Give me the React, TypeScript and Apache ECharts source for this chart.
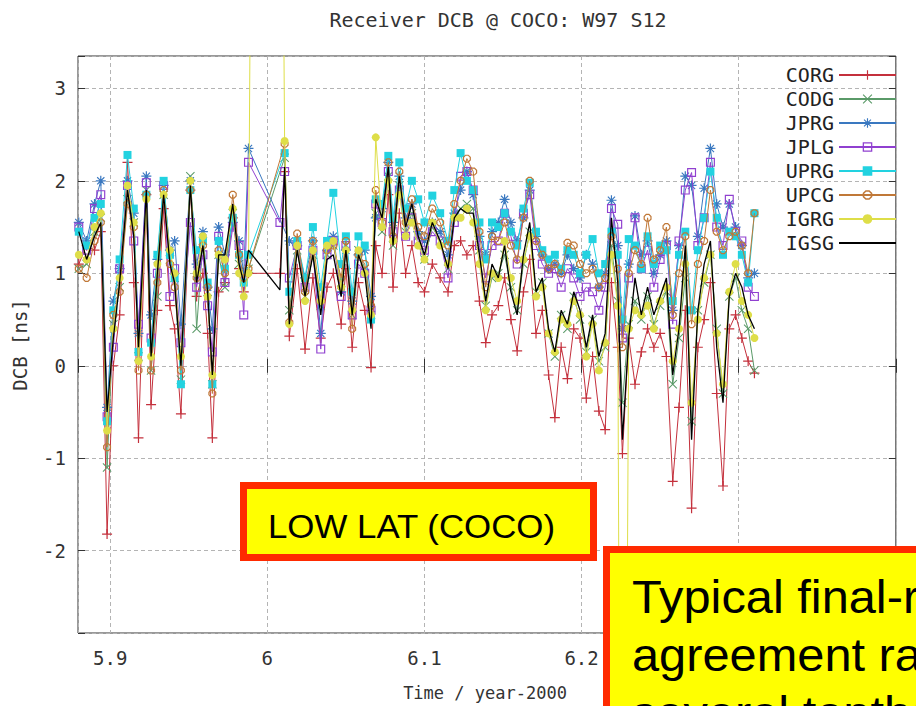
import React, { useEffect, useRef } from 'react';
import * as echarts from 'echarts';

// epochs (year - 2000)
const epochs = [
  5.880, 5.885, 5.890, 5.894, 5.898, 5.902, 5.906, 5.911, 5.915, 5.918,
  5.923, 5.926, 5.930, 5.934, 5.938, 5.941, 5.945, 5.951, 5.955, 5.959,
  5.962, 5.965, 5.969, 5.973, 5.978, 5.982, 5.985, 5.988,
  5.999,
  6.008, 6.011, 6.014, 6.019, 6.024, 6.029, 6.034, 6.038, 6.042, 6.047,
  6.050, 6.054, 6.058, 6.062, 6.066, 6.069, 6.073, 6.077, 6.080, 6.084,
  6.088, 6.092, 6.096, 6.100, 6.105, 6.110, 6.115, 6.119, 6.123, 6.127,
  6.131, 6.135, 6.139, 6.143, 6.147, 6.151, 6.155, 6.159, 6.163, 6.167,
  6.171, 6.175, 6.179, 6.183, 6.187, 6.191, 6.195, 6.199, 6.203, 6.207,
  6.211, 6.215, 6.219, 6.223, 6.226, 6.230, 6.234, 6.238, 6.242, 6.246,
  6.250, 6.254, 6.258, 6.262, 6.266, 6.270, 6.274, 6.278, 6.282, 6.286,
  6.290, 6.294, 6.298, 6.302, 6.306, 6.310,
];

const CORG = [
  1.10, 1.30, 1.25, 1.45, -1.82, 0.00, 0.55, 2.20, 0.90, -0.78,
  1.85, -0.42, 0.60, 1.70, 0.65, 0.40, -0.52, 1.90, 0.75, 1.00,
  0.35, -0.78, 0.80, 0.90, 1.60, 1.05, 0.80, 1.00,
  null,
  1.00, 2.10, 0.32, 1.05, 0.18, 0.95, 0.30, 0.85, 1.00, 0.45,
  1.05, 0.20, 0.90, 0.60, -0.02, 1.30, 1.00, 1.85, 0.85, 1.65,
  1.00, 1.30, 0.90, 0.80, 1.10, 0.95, 0.80, 1.30, 1.35, 1.20,
  1.30, 0.70, 0.25, 0.55, 0.65, 0.95, 0.50, 0.16, 0.80, 1.15,
  0.35, 0.60, -0.10, -0.56, 0.20, -0.14, 0.40, 0.30, -0.35, 0.10,
  -0.49, -0.69, 0.90, 0.20, -0.95, 0.30, -0.20, 0.15, 0.40, 0.20,
  0.35, 0.10, -1.25, -0.45, 0.60, -1.54, 0.20, 0.50, 0.90, -0.30,
  -1.30, 0.40, 0.55, 0.30, 0.05, -0.08,
];

const CODG = [
  1.05, 1.10, 1.45, 1.60, -1.10, 0.45, 0.85, 1.80, 1.55, 0.10,
  1.90, -0.05, 0.75, 1.85, 1.15, 0.95, -0.15, 2.05, 0.40, 1.35,
  0.80, -0.20, 1.20, 0.85, 1.65, 1.10, 1.00, 1.05,
  null,
  null, 2.25, 0.60, 1.25, 0.75, 1.20, 0.65, 1.20, 1.30, 0.90,
  1.30, 0.55, 1.25, 1.05, 0.55, 1.65, 1.45, 2.05, 1.30, 1.95,
  1.45, 1.65, 1.40, 1.15, 1.50, 1.35, 1.05, 1.60, 1.70, 1.75,
  1.70, 1.25, 0.65, 0.95, 1.00, 1.20, 0.85, 0.60, 1.10, 1.45,
  0.80, 0.90, 0.35, 0.10, 0.55, 0.40, 0.75, 0.50, 0.15, 0.50,
  0.05, 0.20, 1.30, 0.70, -0.40, 0.45, 0.70, 0.50, 0.75, 0.45,
  0.65, 0.80, -0.20, 0.30, 0.95, -0.60, 0.60, 0.90, 1.20, 0.40,
  -0.30, 0.75, 0.95, 0.60, 0.40, -0.05,
];

const JPRG = [
  1.55, 1.35, 1.75, 2.00, -0.45, 0.70, 1.05, 2.00, 1.65, 0.35,
  2.05, 0.55, 1.15, 1.95, 1.25, 1.35, 0.45, 2.00, 1.10, 1.45,
  0.85, 0.40, 1.50, 1.20, 1.55, 1.35, 1.00, 2.35,
  null,
  null, null, 1.35, 1.30, 0.95, 1.35, 0.35, 1.25, 1.40, 0.80,
  1.25, 0.70, 1.20, 1.25, 0.75, 1.60, 1.70, 2.20, 1.55, 2.05,
  1.60, 1.75, 1.45, 1.35, 1.55, 1.45, 1.20, 1.65, 1.90, 2.10,
  1.85, 1.40, 1.20, 1.45, 1.55, 1.80, 1.55, 1.35, 1.60, 1.90,
  1.40, 1.20, 1.05, 1.10, 1.00, 1.20, 1.05, 0.95, 1.20, 1.10,
  0.85, 1.00, 1.79, 1.30, 0.40, 1.10, 1.62, 1.20, 1.35, 1.00,
  1.20, 1.35, 0.60, 1.30, 2.05, 1.95, 1.40, 1.92, 2.35, 1.75,
  1.50, 1.75, 1.50, 1.30, 0.95, 1.00,
];

const JPLG = [
  1.50, 1.25, 1.70, 1.85, -0.55, 0.20, 1.05, 1.95, 1.35, 0.45,
  1.98, 0.30, 1.00, 1.95, 0.75, 1.05, 0.25, 1.55, 0.85, 1.20,
  0.65, 0.15, 1.40, 0.90, 1.50, 1.30, 0.55, 2.20,
  null,
  1.55, 2.10, 0.95, 1.30, 0.85, 1.25, 0.18, 1.20, 1.35, 0.75,
  1.30, 0.55, 1.10, 1.00, 0.60, 1.75, 1.55, 2.10, 1.45, 1.90,
  1.40, 1.60, 1.35, 1.25, 1.45, 1.35, 0.95, 1.55, 2.05, 2.10,
  1.90, 1.30, 0.95, 1.30, 1.35, 1.65, 1.40, 1.10, 1.65, 1.85,
  1.30, 1.10, 1.00, 1.05, 0.85, 1.05, 0.95, 0.75, 0.85, 0.80,
  0.60, 0.85, 1.70, 1.53, 0.30, 0.95, 1.60, 1.05, 1.25, 0.85,
  1.15, 1.30, 0.45, 1.35, 1.90, 2.09, 1.30, 1.60, 2.20, 1.50,
  1.30, 1.80, 1.45, 1.35, 0.85, 0.75,
];

const UPRG = [
  1.45, 1.30, 1.60, 1.75, -0.60, 0.60, 1.15, 2.28, 1.70, 0.15,
  1.85, 0.25, 1.20, 2.00, 1.20, 0.95, -0.20, 1.90, 1.25, 1.35,
  0.90, -0.20, 1.35, 1.05, 1.60, 1.20, 0.90, 1.20,
  null,
  null, 2.30, 0.80, 1.35, 0.95, 1.50, 0.85, 1.35, 1.87, 1.10,
  1.40, 0.80, 1.40, 1.30, 0.50, 1.80, 1.75, 2.27, 1.60, 2.20,
  1.70, 2.00, 1.80, 1.55, 1.84, 1.65, 1.35, 1.90, 2.30, 2.00,
  1.90, 1.55, 1.15, 1.55, 1.50, 1.65, 1.45, 1.30, 1.70, 1.98,
  1.45, 1.25, 1.15, 1.20, 1.05, 1.25, 1.20, 1.00, 1.20, 1.37,
  1.00, 1.10, 1.45, 1.20, 0.50, 1.37, 1.30, 1.05, 1.40, 1.10,
  1.30, 1.25, 0.70, 1.20, 1.45, 0.60, 1.25, 1.60, 2.10, 1.60,
  1.20, 1.45, 1.40, 1.20, 0.90, 1.65,
];

const UPCG = [
  1.05, 0.95, 1.35, 1.55, -0.88, 0.55, 0.80, 1.75, 1.50, -0.05,
  1.85, -0.05, 0.90, 1.90, 1.10, 0.85, -0.05, 1.90, 0.95, 1.30,
  0.85, -0.30, 1.25, 1.00, 1.85, 1.20, 0.95, 1.05,
  null,
  null, 2.40, 0.47, 1.43, 0.80, 1.35, 0.70, 1.25, 1.30, 0.95,
  1.35, 0.40, 1.20, 1.10, 0.65, 1.90, 1.55, 2.20, 1.40, 2.10,
  1.55, 1.80, 1.50, 1.40, 1.70, 1.55, 1.30, 1.75, 2.00, 2.24,
  2.10, 1.45, 0.85, 1.40, 1.35, 1.55, 1.30, 1.15, 1.60, 2.00,
  1.35, 1.20, 1.05, 1.10, 1.00, 1.33, 1.30, 1.10, 1.00, 1.05,
  0.85, 0.95, 1.40, 1.05, 0.20, 1.00, 1.25, 1.10, 1.60, 1.15,
  1.25, 1.50, 0.55, 1.00, 1.40, 0.45, 1.10, 1.35, 1.90, 1.45,
  1.25, 1.40, 1.45, 1.30, 1.00, 1.65,
];

const IGRG = [
  1.20, 1.15, 1.50, 1.65, -0.70, 0.40, 0.95, 1.95, 1.55, 0.05,
  1.80, 0.10, 1.10, 1.85, 1.25, 1.00, 0.10, 2.00, 1.00, 1.40,
  0.75, -0.10, 1.20, 1.15, 1.70, 1.00, 0.75, 1.00,
  30.0,
  null, 2.43, 0.45, 1.30, 0.70, 1.25, 0.70, 1.30, 1.35, 0.85,
  1.25, 0.60, 1.25, 1.00, 0.55, 2.47, 1.50, 2.00, 1.35, 1.85,
  1.40, 1.55, 1.30, 1.15, 1.55, 1.30, 1.10, 1.60, 1.60, 1.70,
  1.55, 1.10, 0.60, 1.00, 0.95, 1.35, 0.95, 0.70, 1.15, 1.40,
  0.75, 0.85, 0.35, 0.15, 0.50, 0.45, 0.70, 0.55, 0.10, 0.45,
  -0.05, 0.25, 1.20, 0.65, -12.0, 0.40, 0.60, 0.55, 0.65, 0.40,
  0.70, 0.85, 0.05, 0.40, 1.10, -0.40, 0.50, 0.95, 1.20, 0.35,
  -0.20, 0.80, 1.10, 0.70, 0.55, 0.30,
];

const IGSG = [
  1.45, 1.15, 1.40, 1.55, -0.50, 0.30, 0.90, 1.90, 1.40, 0.20,
  1.90, 0.10, 1.00, 1.85, 1.10, 0.90, 0.00, 1.95, 0.90, 1.30,
  0.80, -0.10, 1.20, 1.20, 1.75, 1.10, 0.90, 1.25,
  null,
  0.82, 2.15, 0.45, 1.25, 0.75, 1.20, 0.55, 1.15, 1.20, 0.75,
  1.25, 0.55, 1.20, 1.00, 0.40, 1.80, 1.60, 2.15, 1.30, 2.05,
  1.50, 1.75, 1.40, 1.20, 1.55, 1.35, 1.05, 1.60, 1.70, 1.65,
  1.65, 1.20, 0.70, 1.10, 0.95, 1.30, 0.80, 0.55, 1.20, 1.55,
  0.80, 0.95, 0.40, 0.15, 0.60, 0.45, 0.80, 0.60, 0.20, 0.55,
  0.10, 0.35, 1.60, 0.90, -0.80, 0.30, 0.95, 0.55, 0.85, 0.55,
  0.75, 0.95, -0.10, 0.40, 1.30, -0.80, 0.60, 1.10, 1.35, 0.20,
  -0.40, 0.75, 1.00, 0.85, 0.55, 0.40,
];

const seriesNames = ['CORG', 'CODG', 'JPRG', 'JPLG', 'UPRG', 'UPCG', 'IGRG', 'IGSG'];
const seriesValues = [CORG, CODG, JPRG, JPLG, UPRG, UPCG, IGRG, IGSG];
const seriesColors = ['#c4303c', '#5a9a68', '#3a78c0', '#9040d0', '#22d2e0', '#c07838', '#dede48', '#000000'];

const PLUS = 'path://M4.4,0H5.6V4.4H10V5.6H5.6V10H4.4V5.6H0V4.4H4.4Z';
const CROSS = 'path://M0,0.8L0.8,0L5,4.2L9.2,0L10,0.8L5.8,5L10,9.2L9.2,10L5,5.8L0.8,10L0,9.2L4.2,5Z';
const STAR = 'path://M4.4,0H5.6V4.4H10V5.6H5.6V10H4.4V5.6H0V4.4H4.4Z M1,1.8L1.8,1L5,4.2L8.2,1L9,1.8L5.8,5L9,8.2L8.2,9L5,5.8L1.8,9L1,8.2L4.2,5Z';
const SQUARE_OPEN = 'path://M0,0H10V10H0Z M1.3,1.3V8.7H8.7V1.3Z';
const OCT_OPEN = 'path://M3,0L7,0L10,3L10,7L7,10L3,10L0,7L0,3Z M3.6,1.5L1.5,3.6L1.5,6.4L3.6,8.5L6.4,8.5L8.5,6.4L8.5,3.6L6.4,1.5Z';
const seriesSymbols = [PLUS, CROSS, STAR, SQUARE_OPEN, 'rect', OCT_OPEN, 'circle', 'none'];
const seriesSymbolSizes = [10, 9, 10, 9, 8, 8, 8, 0];

const MONO = '"DejaVu Sans Mono", "Liberation Mono", monospace';
const SANS = '"Liberation Sans", Arial, sans-serif';

export default function App() {
  const ref = useRef<HTMLDivElement>(null);

  useEffect(() => {
    if (!ref.current) return;
    const chart = echarts.init(ref.current, undefined, { renderer: 'svg' });

    const series = seriesNames.map((name, k) => {
      const vals = seriesValues[k];
      const data: number[][] = [];
      epochs.forEach((x, i) => {
        const v = vals[i];
        if (v !== null && v !== undefined) data.push([x, v]);
      });
      return {
        name,
        type: 'line',
        data,
        symbol: seriesSymbols[k],
        symbolSize: seriesSymbolSizes[k],
        showSymbol: seriesSymbols[k] !== 'none',
        clip: true,
        lineStyle: { color: seriesColors[k], width: k === 7 ? 1.3 : 1 },
        itemStyle: { color: seriesColors[k] },
        emphasis: { disabled: true },
        z: 2 + k * 0.01,
      };
    });

    const xFmt = (v: number) => {
      const r = Math.round(v * 10) / 10;
      return Math.abs(v - r) < 1e-6 ? String(r) : '';
    };
    const yFmt = (v: number) => {
      const r = Math.round(v);
      return Math.abs(v - r) < 1e-6 ? String(r) : '';
    };
    const gridLine = { show: true, lineStyle: { color: '#b4b4b4', type: [4, 3], width: 1 } };
    const tick = { show: true, inside: true, length: 7, lineStyle: { color: '#333', width: 1 } };

    const option = {
      animation: false,
      backgroundColor: '#ffffff',
      grid: { left: 78, right: 3, top: 56, bottom: 73, show: true, borderColor: '#333', borderWidth: 1 },
      xAxis: [
        {
          type: 'value', min: 5.8795, max: 6.4, position: 'bottom',
          axisLine: { show: false }, axisTick: tick,
          axisLabel: { margin: 15, fontFamily: MONO, fontSize: 19, color: '#333', formatter: xFmt },
          splitLine: gridLine,
        },
        {
          type: 'value', min: 5.8795, max: 6.4, position: 'top',
          axisLine: { show: false }, axisTick: tick, axisLabel: { show: false }, splitLine: { show: false },
        },
      ],
      yAxis: [
        {
          type: 'value', min: -2.89, max: 3.35, position: 'left',
          axisLine: { show: false }, axisTick: tick,
          axisLabel: { margin: 12, fontFamily: MONO, fontSize: 19, color: '#333', formatter: yFmt },
          splitLine: gridLine,
        },
        {
          type: 'value', min: -2.89, max: 3.35, position: 'right',
          axisLine: { show: false }, axisTick: tick, axisLabel: { show: false }, splitLine: { show: false },
        },
      ],
      legend: {
        orient: 'vertical', right: 19, top: 65, align: 'right', padding: 0,
        itemWidth: 57, itemHeight: 12, itemGap: 4, selectedMode: false,
        textStyle: { fontFamily: MONO, fontSize: 20, color: '#222', lineHeight: 20 },
        data: seriesNames.map((n) => (n === 'IGSG' ? { name: n, itemStyle: { opacity: 0 } } : { name: n })),
      },
      series,
      graphic: [
        {
          type: 'text', x: 498, y: 20, z: 50,
          style: { text: 'Receiver DCB @ COCO: W97 S12', fontFamily: MONO, fontSize: 20, fill: '#333', align: 'center', verticalAlign: 'middle' },
        },
        {
          type: 'text', x: 485, y: 693, z: 50,
          style: { text: 'Time / year-2000', fontFamily: MONO, fontSize: 17, fill: '#333', align: 'center', verticalAlign: 'middle' },
        },
        {
          type: 'text', x: 20, y: 345, rotation: Math.PI / 2, z: 50,
          style: { text: 'DCB [ns]', fontFamily: MONO, fontSize: 19, fill: '#333', align: 'center', verticalAlign: 'middle' },
        },
        {
          type: 'rect', z: 100,
          shape: { x: 243.5, y: 485.5, width: 350, height: 72 },
          style: { fill: '#ffff00', stroke: '#ff2a00', lineWidth: 7 },
        },
        {
          type: 'text', x: 268, y: 526, scaleX: 1.025, z: 101,
          style: { text: 'LOW LAT (COCO)', fontFamily: SANS, fontSize: 34, fill: '#000', align: 'left', verticalAlign: 'middle' },
        },
        {
          type: 'rect', z: 100,
          shape: { x: 606.5, y: 549.5, width: 400, height: 300 },
          style: { fill: '#ffff00', stroke: '#ff2a00', lineWidth: 7 },
        },
        {
          type: 'text', x: 632, y: 597, scaleX: 1.06, z: 101,
          style: { text: 'Typical final-results', fontFamily: SANS, fontSize: 46, fill: '#000', align: 'left', verticalAlign: 'middle' },
        },
        {
          type: 'text', x: 632, y: 655, scaleX: 1.06, z: 101,
          style: { text: 'agreement range:', fontFamily: SANS, fontSize: 46, fill: '#000', align: 'left', verticalAlign: 'middle' },
        },
        {
          type: 'text', x: 632, y: 713, scaleX: 1.06, z: 101,
          style: { text: 'several tenths of ns', fontFamily: SANS, fontSize: 46, fill: '#000', align: 'left', verticalAlign: 'middle' },
        },
      ],
    };

    chart.setOption(option as any);
    return () => chart.dispose();
  }, []);

  return (
    <div
      ref={ref}
      style={{ position: 'absolute', left: 0, top: 0, width: 916, height: 706, background: '#fff' }}
    />
  );
}
